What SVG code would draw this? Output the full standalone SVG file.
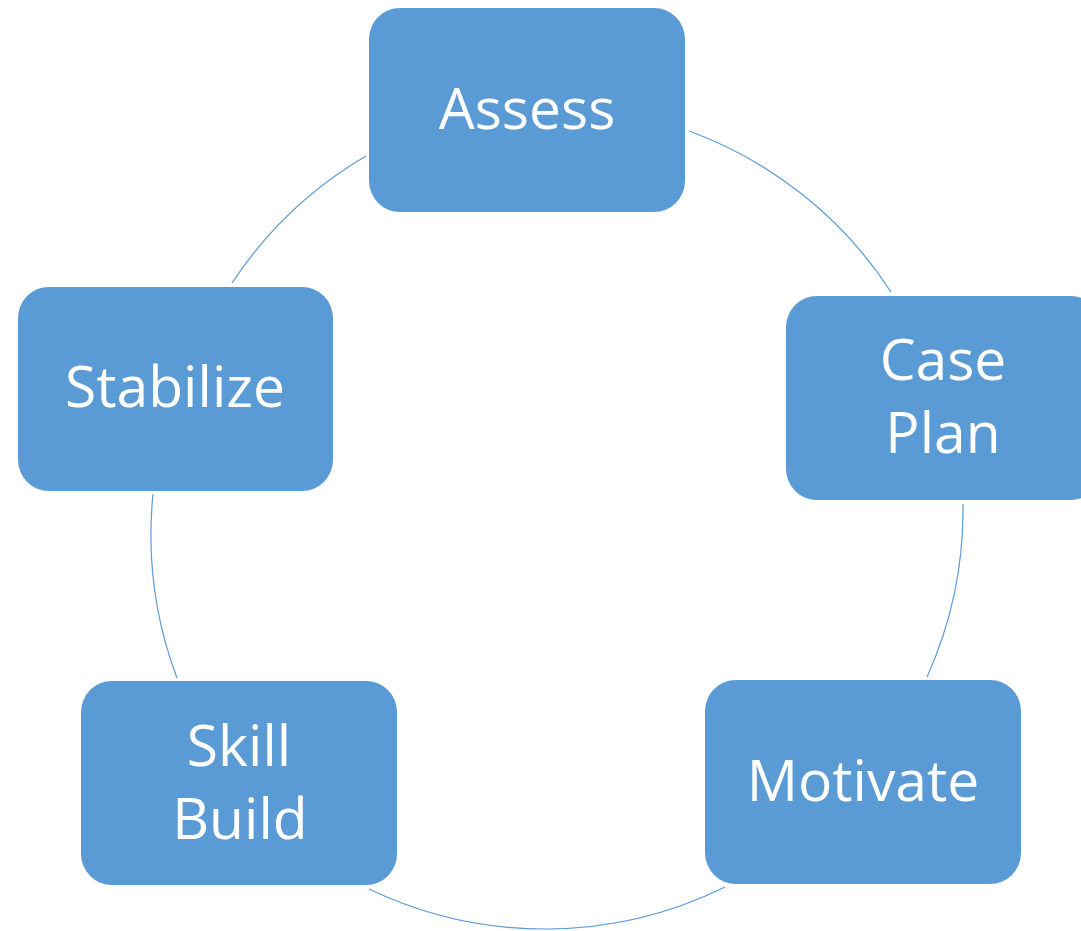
<svg xmlns="http://www.w3.org/2000/svg" width="1081" height="931" viewBox="0 0 1081 931">
<style>
.box{fill:#5B9BD5;}
.lbl{fill:#FFFFFF;font-family:"Open Sans","Liberation Sans",sans-serif;font-size:57px;text-anchor:middle;}
.arc{fill:none;stroke:#5B9BD5;stroke-width:1.2;}
</style>
<rect width="1081" height="931" fill="#FFFFFF"/>
<g id="connectors">
<path class="arc" d="M 689 131 A 407 407 0 0 1 891 292"/>
<path class="arc" d="M 963 504 A 407 407 0 0 1 927 677"/>
<path class="arc" d="M 725 887 A 407 407 0 0 1 369 889"/>
<path class="arc" d="M 177 678 A 407 407 0 0 1 153 494"/>
<path class="arc" d="M 232 283 A 407 407 0 0 1 366 156"/>
</g>
<g id="assess">
<rect class="box" x="369" y="8" width="316" height="204" rx="31"/>
<text class="lbl" x="527" y="129">Assess</text>
</g>
<g id="case-plan">
<rect class="box" x="786" y="296" width="316" height="204" rx="31"/>
<text class="lbl" x="943" y="380">Case</text>
<text class="lbl" x="943" y="453">Plan</text>
</g>
<g id="motivate">
<rect class="box" x="705" y="680" width="316" height="204" rx="31"/>
<text class="lbl" x="863" y="801">Motivate</text>
</g>
<g id="skill-build">
<rect class="box" x="81" y="681" width="316" height="204" rx="31"/>
<text class="lbl" x="239" y="766">Skill</text>
<text class="lbl" x="240" y="839">Build</text>
</g>
<g id="stabilize">
<rect class="box" x="18" y="287" width="315" height="204" rx="31"/>
<text class="lbl" x="175" y="407">Stabilize</text>
</g>
</svg>
